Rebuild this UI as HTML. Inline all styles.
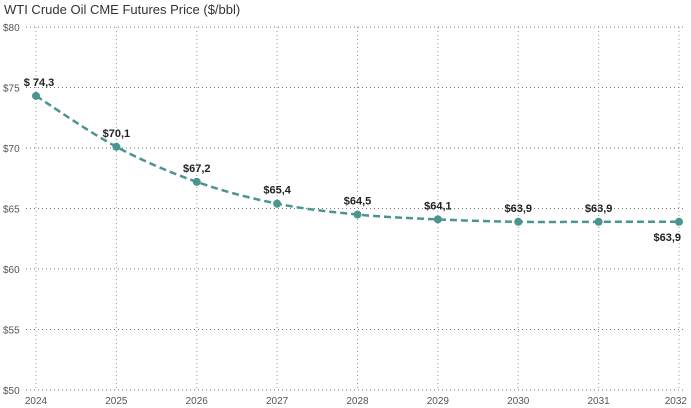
<!DOCTYPE html>
<html><head><meta charset="utf-8"><style>
body{margin:0;background:#fff;width:691px;height:408px;overflow:hidden}
svg{display:block;font-family:"Liberation Sans",sans-serif}
</style></head><body>
<svg id="chart" width="691" height="408" viewBox="0 0 691 408">
<text x="4" y="14" font-size="13" fill="#333">WTI Crude Oil CME Futures Price ($/bbl)</text>
<g id="grid"></g><g id="axes"></g><g id="series"></g><g id="labels"></g>
</svg>
<script>
const years=["2024","2025","2026","2027","2028","2029","2030","2031","2032"];
const prices=[74.3,70.1,67.2,65.4,64.5,64.1,63.9,63.9,63.9];
const priceLabels=["$ 74,3","$70,1","$67,2","$65,4","$64,5","$64,1","$63,9","$63,9","$63,9"];
const yTicks=[50,55,60,65,70,75,80];
const NS="http://www.w3.org/2000/svg";
const x0=36,x1=679,yTop=27,yBot=390,vMin=50,vMax=80;
const xs=i=>x0+i*(x1-x0)/(years.length-1);
const ys=v=>yBot-(v-vMin)/(vMax-vMin)*(yBot-yTop);
function mk(tag,attrs,parent){const e=document.createElementNS(NS,tag);for(const k in attrs)e.setAttribute(k,attrs[k]);document.getElementById(parent).appendChild(e);return e;}
yTicks.forEach(t=>{
 const l=mk('line',{x1:26,x2:686,y1:ys(t),y2:ys(t),stroke:'#777','stroke-width':1,'stroke-dasharray':'1 3'},'grid');
 
 
 const tx=mk('text',{x:3,y:ys(t)+4,'font-size':10,fill:'#555'},'axes');
 tx.textContent='$'+t;
 
 
});
years.forEach((y,i)=>{
 const l=mk('line',{x1:xs(i),x2:xs(i),y1:yTop,y2:yBot,stroke:'#999','stroke-width':1,'stroke-dasharray':'1 3'},'grid');
 
 
 const tx=mk('text',{x:i===years.length-1?xs(i)+8:xs(i),y:404,'font-size':10,fill:'#555','text-anchor':i===years.length-1?'end':'middle'},'axes');
 tx.textContent=y;
 
 
});
const pts=prices.map((v,i)=>[xs(i),ys(v)]);
let d=`M${pts[0][0]},${pts[0][1]}`;
for(let i=0;i<pts.length-1;i++){
 const p0=pts[Math.max(0,i-1)],p1=pts[i],p2=pts[i+1],p3=pts[Math.min(pts.length-1,i+2)];
 d+=` C${p1[0]+(p2[0]-p0[0])/6},${p1[1]+(p2[1]-p0[1])/6} ${p2[0]-(p3[0]-p1[0])/6},${p2[1]-(p3[1]-p1[1])/6} ${p2[0]},${p2[1]}`;
}
const path=mk('path',{d:d,fill:'none',stroke:'#4a958f','stroke-width':2.5,'stroke-dasharray':'7 4'},'series');


pts.forEach((p,i)=>{
 const c=mk('circle',{cx:p[0],cy:p[1],r:4,fill:'#4a958f'},'series');
 
 
 const last=i===pts.length-1;
 const tx=mk('text',{x:last?p[0]+2:p[0]+(i===0?3:0),y:last?p[1]+19:p[1]-10,'font-size':11,'font-weight':'bold',fill:'#222','text-anchor':last?'end':'middle'},'labels');
 tx.textContent=priceLabels[i];
 
 
});
</script>
</body></html>
